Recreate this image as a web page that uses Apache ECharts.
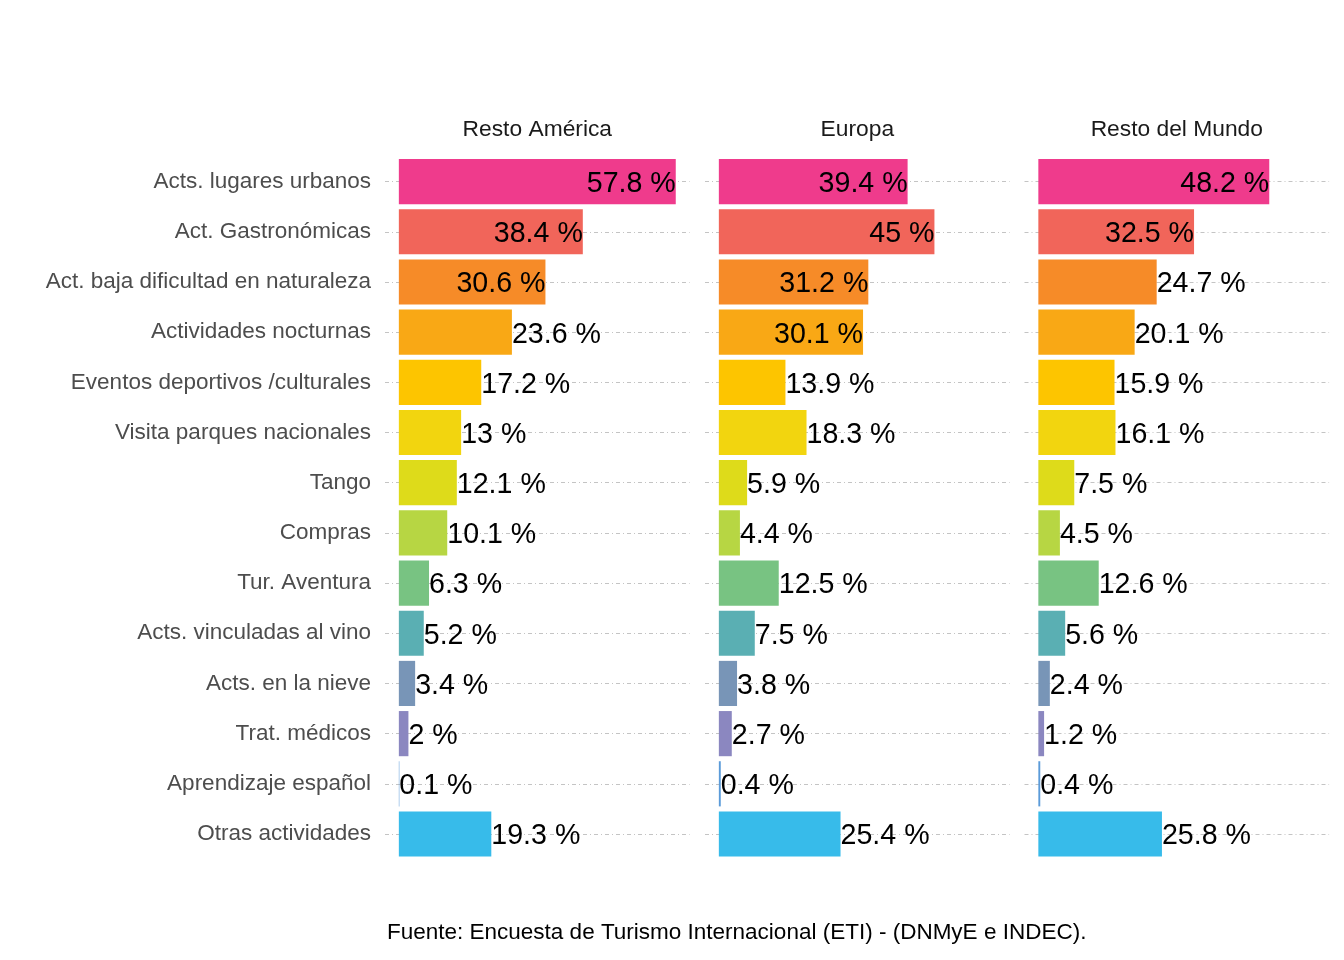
<!DOCTYPE html>
<html><head><meta charset="utf-8">
<script src="https://cdn.jsdelivr.net/npm/echarts@6/dist/echarts.min.js"></script>
<style>html,body{margin:0;padding:0;background:#fff}#c{width:1344px;height:960px}</style>
</head><body><div id="c"></div>
<script>
const categories = ["Acts. lugares urbanos","Act. Gastronómicas","Act. baja dificultad en naturaleza","Actividades nocturnas","Eventos deportivos /culturales","Visita parques nacionales","Tango","Compras","Tur. Aventura","Acts. vinculadas al vino","Acts. en la nieve","Trat. médicos","Aprendizaje español","Otras actividades"];
const panels = ["Resto América","Europa","Resto del Mundo"];
const restoAmerica = [57.8,38.4,30.6,23.6,17.2,13,12.1,10.1,6.3,5.2,3.4,2,0.1,19.3];
const europa = [39.4,45,31.2,30.1,13.9,18.3,5.9,4.4,12.5,7.5,3.8,2.7,0.4,25.4];
const restoMundo = [48.2,32.5,24.7,20.1,15.9,16.1,7.5,4.5,12.6,5.6,2.4,1.2,0.4,25.8];
const colors = ["#EF3B8C","#F1655A","#F68B28","#F9A815","#FDC500","#F2D50F","#DEDB1A","#B7D643","#78C382","#5AAFB3","#7895B7","#8B87C0","#5B9BD9","#37BBEA"];
const caption = "Fuente: Encuesta de Turismo Internacional (ETI) - (DNMyE e INDEC).";

const seriesData = [restoAmerica, europa, restoMundo];
const maxVal = Math.max(...restoAmerica, ...europa, ...restoMundo);
const xMin = -0.05 * maxVal, xMax = maxVal * 1.05;
const lefts = [385, 705, 1024.5];
const FONT = "Liberation Sans, Arial, sans-serif";

const grid = [], xAxis = [], yAxis = [], series = [];
panels.forEach((p, i) => {
  grid.push({left: lefts[i], width: 304.6, top: 181.6, height: 652.4, containLabel: false});
  xAxis.push({type: 'value', gridIndex: i, min: xMin, max: xMax, position: 'top',
    name: p, nameLocation: 'middle', nameGap: 40,
    nameTextStyle: {fontFamily: FONT, fontSize: 22.8, color: '#1A1A1A'},
    axisLine: {show: false}, axisTick: {show: false}, axisLabel: {show: false}, splitLine: {show: false}});
  yAxis.push({type: 'category', gridIndex: i, data: categories, inverse: true, boundaryGap: false,
    axisLine: {show: false}, axisTick: {show: false},
    axisLabel: {show: i === 0, fontFamily: FONT, fontSize: 22.5, color: '#4D4D4D', margin: 14, padding: [4, 0, 0, 0]},
    splitLine: {show: true, showMinLine: true, showMaxLine: true, lineStyle: {color: '#C4C4C4', width: 1, type: [4, 3, 1, 3]}}});
  series.push({type: 'bar', xAxisIndex: i, yAxisIndex: i, barWidth: '90%', clip: false,
    data: seriesData[i].map((v, k) => ({value: v, itemStyle: {color: colors[k]},
      label: {position: v > 28 ? 'insideRight' : 'right'}})),
    label: {show: true, distance: 0, offset: [0, 2.5], fontFamily: FONT, fontSize: 28.6, color: '#000',
      formatter: (d) => d.value + ' %'}});
});

const chart = echarts.init(document.getElementById('c'), null, {renderer: 'canvas'});
chart.setOption({
  backgroundColor: '#fff',
  animation: false,
  title: {text: caption, left: 387, top: 921, padding: 0, textStyle: {fontFamily: FONT, fontSize: 22.5, fontWeight: 'normal', color: '#000'}},
  grid, xAxis, yAxis, series
});
</script></body></html>
